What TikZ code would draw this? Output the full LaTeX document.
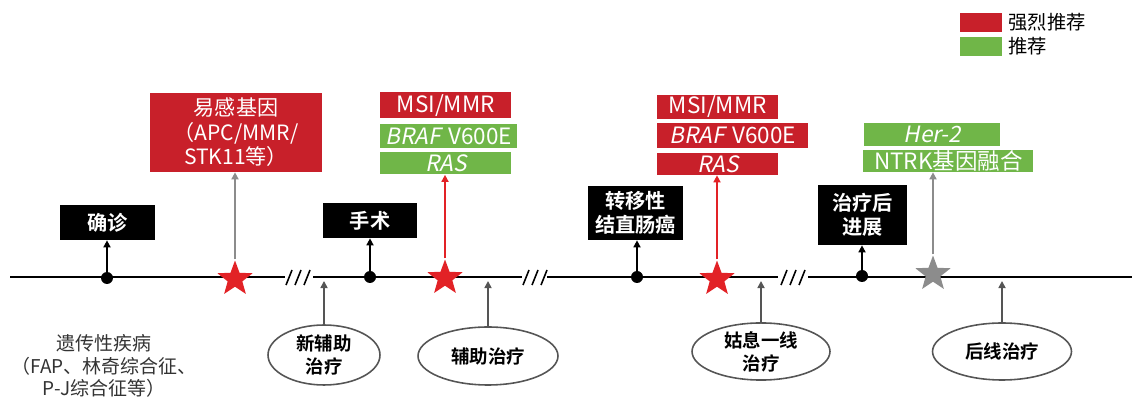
\documentclass[tikz,border=0pt]{standalone}
\usepackage{fontspec}
\setmainfont{Noto Sans CJK SC}[BoldFont={Noto Sans CJK SC Bold},AutoFakeSlant=0.2]
\usetikzlibrary{shapes.geometric,arrows.meta}
\definecolor{hired}{RGB}{200,32,42}
\definecolor{higreen}{RGB}{112,182,72}
\definecolor{starred}{RGB}{226,34,38}
\definecolor{stargray}{RGB}{140,140,140}
\definecolor{linegray}{RGB}{85,85,85}
\tikzset{
  event/.style={fill=black,text=white,font=\bfseries\fontsize{11.5}{13.5}\selectfont,align=center,inner sep=0pt},
  gene/.style={text=white,inner sep=0pt,anchor=west,font=\fontsize{12.8}{14}\selectfont},
  strong/.style={gene,fill=hired},
  weak/.style={gene,fill=higreen},
  therapy/.style={ellipse,draw=linegray,line width=0.9pt,font=\bfseries\fontsize{10.5}{13}\selectfont,align=center,inner sep=0pt},
  dot/.style={circle,fill=black,inner sep=0pt,minimum size=0.24cm},
  starmark/.style={star,star points=5,star point ratio=2.4,fill=#1,inner sep=0pt,minimum size=0.74cm},
  up/.style={-{Triangle[length=4pt,width=4pt]},line width=0.9pt}
}
\begin{document}
\begin{tikzpicture}[x=0.02cm,y=-0.02cm]
\useasboundingbox (0,0) rectangle (1132,401);

\node[fill=hired,minimum width=0.84cm,minimum height=0.38cm,inner sep=0pt] (legr) at (981,22.5) {};
\node[fill=higreen,minimum width=0.84cm,minimum height=0.38cm,inner sep=0pt] (legg) at (981,46.5) {};
\node[anchor=west,font=\fontsize{11}{13}\selectfont] (legrt) at (legr.east) {强烈推荐};
\node[anchor=west,font=\fontsize{11}{13}\selectfont] (leggt) at (legg.east) {推荐};

\coordinate (t0) at (10,277);
\coordinate (t1) at (285,277);
\coordinate (t2) at (313,277);
\coordinate (t3) at (522,277);
\coordinate (t4) at (547,277);
\coordinate (t5) at (778,277);
\coordinate (t6) at (808,277);
\coordinate (t7) at (1132,277);
\coordinate (tl) at (0,281);
\draw[line width=1.3pt] (t0) -- (t1) (t2) -- (t3) (t4) -- (t5) (t6) -- (t7);
\foreach \bx in {289,298,307,526,535,544,784,793,802}
  \draw[line width=0.9pt] (\bx-3,285) -- (\bx+3,270);

\node[dot] (d1) at (107,278) {};
\node[dot] (d2) at (370,277) {};
\node[dot] (d3) at (637,277) {};
\node[dot] (d4) at (862,276) {};

\node[event,minimum width=1.9cm,minimum height=0.7cm] (diag) at (107.5,222.5) {确诊};
\node[event,minimum width=1.88cm,minimum height=0.7cm] (surg) at (370,220.5) {手术};
\node[event,minimum width=1.9cm,minimum height=1.08cm] (meta) at (635.5,213) {转移性\\结直肠癌};
\node[event,minimum width=1.78cm,minimum height=1.2cm] (prog) at (862.5,215) {治疗后\\进展};
\draw[up] (d1) -- (d1 |- diag.south);
\draw[up] (d2) -- (d2 |- surg.south);
\draw[up] (d3) -- (d3 |- meta.south);
\draw[up] (d4) -- (d4 |- prog.south);

\node[fill=hired,text=white,align=center,inner sep=0pt,minimum width=3.44cm,minimum height=1.58cm,font=\fontsize{12}{14}\selectfont] (susc) at (236,132.5) {易感基因\\（APC/MMR/\\STK11等）};

\node[strong,minimum width=2.62cm,minimum height=0.52cm] (msia) at (380,105.5) {MSI/MMR};
\node[weak,minimum width=2.74cm,minimum height=0.48cm] (brafa) at (380,136) {\textit{BRAF}\hspace{0.35em}V600E};
\node[weak,minimum width=2.62cm,minimum height=0.44cm] (rasa) at (380,163.5) {\textit{RAS}};
\node[strong,minimum width=2.42cm,minimum height=0.48cm] (msib) at (657,107) {MSI/MMR};
\node[strong,minimum width=3.02cm,minimum height=0.5cm] (brafb) at (657,135.5) {\textit{BRAF}\hspace{0.35em}V600E};
\node[strong,minimum width=2.42cm,minimum height=0.44cm] (rasb) at (657,164) {\textit{RAS}};
\node[weak,minimum width=2.72cm,minimum height=0.46cm] (her) at (864,134.5) {\textit{Her-2}};
\node[weak,minimum width=3.4cm,minimum height=0.44cm] (ntrk) at (863,161) {NTRK基因融合};

\node[starmark=starred] (s1) at (235,279) {};
\node[starmark=starred] (s2) at (445,278) {};
\node[starmark=starred] (s3) at (717,279) {};
\node[starmark=stargray] (s4) at (933,274) {};
\draw[up,stargray] (s1.north) -- (s1.north |- susc.south);
\draw[up,starred] (s2.north) -- (s2.north |- rasa.south);
\draw[up,starred] (s3.north) -- (s3.north |- rasb.south);
\draw[up,stargray] (s4.north) -- (s4.north |- ntrk.south);

\node[therapy,minimum width=2.24cm,minimum height=1.2cm] (neo) at (324,355) {新辅助\\治疗};
\node[therapy,minimum width=2.8cm,minimum height=1.16cm] (adj) at (488,356) {辅助治疗};
\node[therapy,minimum width=2.76cm,minimum height=1.14cm] (first) at (761,351.5) {姑息一线\\治疗};
\node[therapy,minimum width=2.78cm,minimum height=1.14cm] (later) at (1002,351.5) {后线治疗};
\draw[up,linegray] (neo.north) -- (neo.north |- tl);
\draw[up,linegray] (adj.north) -- (adj.north |- tl);
\draw[up,linegray] (first.north) -- (first.north |- tl);
\draw[up,linegray] (later.north) -- (later.north |- tl);

\node[align=center,text=black!80,font=\fontsize{10.8}{13}\selectfont] (hered) at (104,366) {遗传性疾病\\（FAP、林奇综合征、\\P-J综合征等）};
\end{tikzpicture}
\end{document}
